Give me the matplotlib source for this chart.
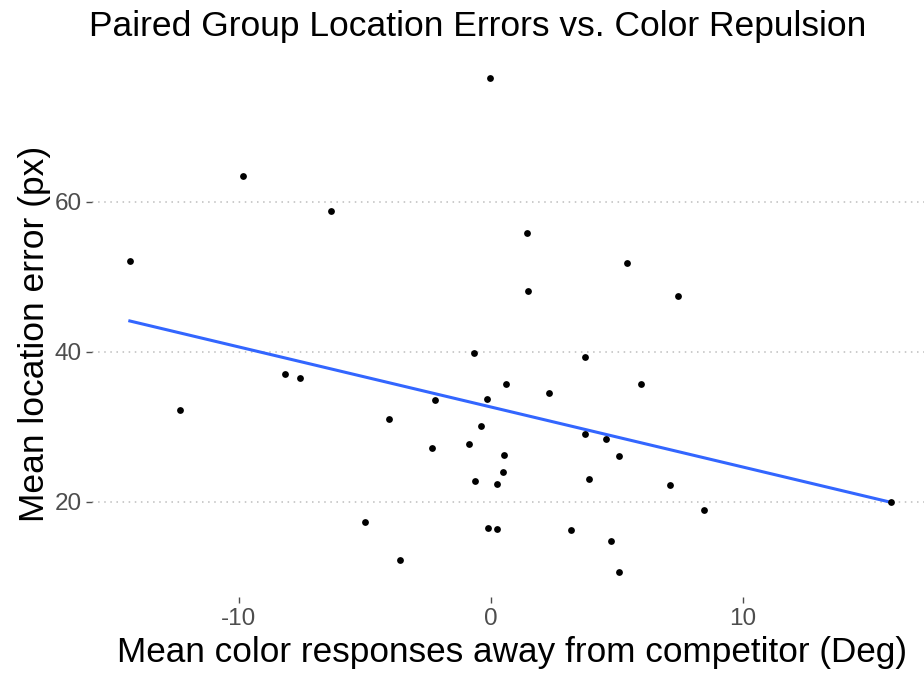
import numpy as np
import matplotlib
matplotlib.use('Agg')
import matplotlib.pyplot as plt

plt.rcParams['font.family'] = ['Liberation Sans', 'DejaVu Sans']
plt.rcParams['axes.unicode_minus'] = False

# mean color response away from competitor (deg)
color_away = [-14.33, -12.34, -9.83, -8.16, -7.59, -6.36, -5.01, -4.06, -3.61, -2.35,
              -2.23, -0.88, -0.66, -0.63, -0.41, -0.17, -0.13, -0.04, 0.23, 0.25,
              0.46, 0.52, 0.60, 1.42, 1.46, 2.29, 3.17, 3.74, 3.74, 3.89,
              4.56, 4.76, 5.08, 5.08, 5.38, 5.94, 7.12, 7.42, 8.45, 15.86]
# mean location error (px)
loc_error = [52.1, 32.19, 63.4, 37.03, 36.53, 58.8, 17.25, 30.99, 12.27, 27.16,
             33.56, 27.69, 39.87, 22.76, 30.13, 33.7, 16.53, 76.45, 22.4, 16.32,
             24.0, 26.19, 35.73, 55.87, 48.05, 34.45, 16.27, 39.33, 29.07, 23.07,
             28.4, 14.72, 26.09, 10.6, 51.8, 35.65, 22.24, 47.5, 18.93, 20.0]

x_ticks = [-10, 0, 10]
y_ticks = [20, 40, 60]

x = np.array(color_away)
y = np.array(loc_error)
slope, icpt = np.polyfit(x, y, 1)
xs = np.linspace(x.min(), x.max(), 80)

fig = plt.figure(figsize=(9.24, 6.75), dpi=100)
ax = fig.add_axes([0.0993, 0.1157, 0.9007, 0.8047])

for t in y_ticks:
    ax.axhline(t, color='#BDBDBD', lw=1.1, ls=(0, (1, 3)), zorder=0)

ax.scatter(x, y, s=24, color='black', zorder=3, linewidths=0)
ax.plot(xs, slope * xs + icpt, color='#3366FF', lw=2.2, zorder=2)

ax.set_xlim(-15.84, 17.18)
ax.set_ylim(7.31, 79.74)
ax.set_xticks(x_ticks)
ax.set_yticks(y_ticks)
ax.tick_params(colors='#4D4D4D', labelsize=17.5, length=4, width=1, pad=3)
ax.tick_params(axis='x', pad=4)
for s in ax.spines.values():
    s.set_visible(False)

fig.text(0.5536, (675 - 662) / 675, 'Mean color responses away from competitor (Deg)',
         fontsize=25.3, ha='center', va='baseline')
fig.text(0.0368, (675 - 334) / 675, 'Mean location error (px)',
         fontsize=25.5, rotation=90, ha='center', va='center')
fig.text(0.5168, (675 - 36) / 675, 'Paired Group Location Errors vs. Color Repulsion',
         fontsize=25.5, ha='center', va='baseline')

fig.savefig('out.png', dpi=100, facecolor='white')
